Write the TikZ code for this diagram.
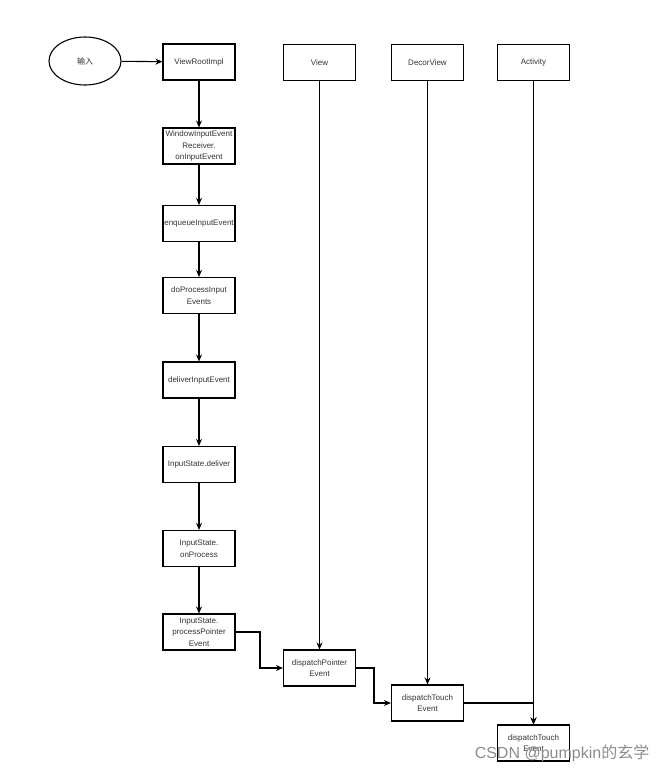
\documentclass[tikz,border=0pt]{standalone}
\usepackage{fontspec}
\setmainfont{Liberation Sans}
\newfontfamily\cjk{Noto Sans CJK SC}
\usetikzlibrary{shapes.geometric,arrows.meta}
\begin{document}
\begin{tikzpicture}[x=1pt,y=-1pt,
  box/.style={draw=black,line width=1.1pt,minimum width=72pt,minimum height=36pt,inner sep=0pt,align=center,font=\fontsize{8}{11.5}\selectfont,text=black!80},
  conn/.style={line width=1.1pt,-{Stealth[length=7pt,width=6pt]}}]
\useasboundingbox (0,0) rectangle (666,771);
\node[ellipse,draw=black,line width=1.1pt,minimum width=72pt,minimum height=48pt,inner sep=0pt,font=\cjk\fontsize{8}{10}\selectfont,text=black!80] (in) at (85,61) {输入};
\node[box] (vri) at (199,62) {ViewRootImpl};
\node[box] (wier) at (199,146) {WindowInputEvent\\Receiver.\\onInputEvent};
\node[box] (enq) at (199,223.5) {enqueueInputEvent};
\node[box] (dpi) at (199,295.5) {doProcessInput\\Events};
\node[box] (die) at (199,380) {deliverInputEvent};
\node[box] (isd) at (199,464.5) {InputState.deliver};
\node[box] (iso) at (199,548.5) {InputState.\\onProcess};
\node[box] (ppe) at (199,632) {InputState.\\processPointer\\Event};
\node[box] (view) at (319.5,62.5) {View};
\node[box] (decor) at (427.5,62.5) {DecorView};
\node[box] (act) at (533.5,62.5) {Activity};
\node[box] (dpe) at (319.5,668) {dispatchPointer\\Event};
\node[box] (dte) at (427.5,703) {dispatchTouch\\Event};
\node[box] (ate) at (533.5,743) {dispatchTouch\\Event};
\coordinate (c1) at (260,632);
\coordinate (c2) at (374,668);
\draw[conn] (in) -- (vri);
\draw[conn] (vri) -- (wier);
\draw[conn] (wier) -- (enq);
\draw[conn] (enq) -- (dpi);
\draw[conn] (dpi) -- (die);
\draw[conn] (die) -- (isd);
\draw[conn] (isd) -- (iso);
\draw[conn] (iso) -- (ppe);
\draw[conn] (ppe.east) -- (c1) |- (dpe.west);
\draw[conn] (dpe.east) -- (c2) |- (dte.west);
\draw[conn] (dte.east) -| (ate.north);
\draw[conn] (view) -- (dpe);
\draw[conn] (decor) -- (dte);
\draw[conn] (act) -- (ate);
\node[anchor=center,font=\fontsize{16}{16}\selectfont,text=black!45,inner sep=0pt] (wm) at (562,753) {CSDN @pumpkin{\cjk 的玄学}};
\end{tikzpicture}
\end{document}
